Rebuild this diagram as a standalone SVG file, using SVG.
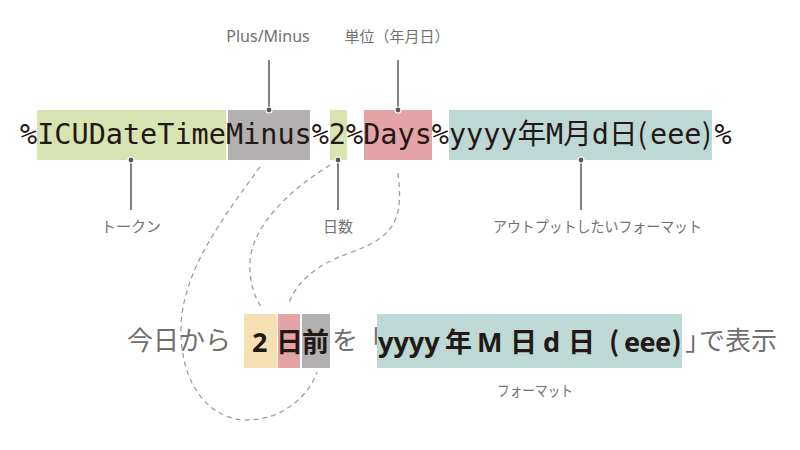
<svg xmlns="http://www.w3.org/2000/svg" width="800" height="450" viewBox="0 0 800 450">
<style>
.mono{font-family:"DejaVu Sans Mono","Noto Sans CJK JP",monospace;font-size:28.5px;fill:#231815}
.cj{font-family:"Noto Sans CJK JP",sans-serif}
.lbl{font-family:"Noto Sans","Noto Sans CJK JP",sans-serif;font-size:16px;fill:#727171;text-anchor:middle}
.lblj{font-family:"Noto Sans CJK JP",sans-serif;font-size:15px;fill:#727171;text-anchor:middle}
.gt{font-family:"Noto Sans CJK JP",sans-serif;font-size:26px;fill:#716e6e}
.bt{font-family:"Noto Sans","Noto Sans CJK JP",sans-serif;font-size:27px;font-weight:700;fill:#231815}
.btj{font-family:"Noto Sans CJK JP",sans-serif;font-size:27px;font-weight:700;fill:#231815}
.lead{stroke:#595757;stroke-width:1.5;fill:none}
.dot{fill:#595757;stroke:#fff;stroke-width:1.2}
.dash{stroke:#9e9e9f;stroke-width:1.3;fill:none;stroke-dasharray:5 4}
.g{fill:#d7e3b1}.k{fill:#b2b0b1}.r{fill:#e4a4a6}.t{fill:#bed9d5}.b{fill:#f5dfb3}
</style>
<rect width="800" height="450" fill="#fff"/>
<g id="connectors">
<path class="dash" d="M260,167 C225,215 182,270 181,328 C180,385 210,420 247,420 C282,420 309,396 317,372"/>
<path class="dash" d="M330,165 C290,190 252,225 250,262 C249,283 255,297 261,307"/>
<path class="dash" d="M398,173 C403,215 398,236 352,252 C312,266 296,284 288,305"/>
<line class="lead" x1="269" y1="60" x2="269" y2="110"/>
<line class="lead" x1="398" y1="60" x2="398" y2="110"/>
<line class="lead" x1="131" y1="160" x2="131" y2="210"/>
<line class="lead" x1="338" y1="160" x2="338" y2="210"/>
<line class="lead" x1="581" y1="160" x2="581" y2="210"/>
</g>
<g id="token-string">
<rect class="g" x="37" y="110" width="189" height="50"/>
<rect class="k" x="228" y="110" width="82" height="50"/>
<rect class="g" x="330" y="110" width="17" height="50"/>
<rect class="r" x="364" y="110" width="68" height="50"/>
<rect class="t" x="449" y="110" width="263" height="50"/>
<text class="mono" x="20" y="144">%ICUDateTimeMinus%2%Days%yyyy年M月d日<tspan class="cj" x="637.5">(</tspan><tspan x="650">eee</tspan><tspan class="cj" x="702">)</tspan><tspan x="714.5">%</tspan></text>
<circle class="dot" cx="269" cy="110" r="3"/>
<circle class="dot" cx="398" cy="110" r="3"/>
<circle class="dot" cx="131" cy="160" r="3"/>
<circle class="dot" cx="338" cy="160" r="3"/>
<circle class="dot" cx="581" cy="160" r="3"/>
</g>
<g id="label-plusminus"><text class="lbl" x="268" y="42">Plus/Minus</text></g>
<g id="label-unit"><text class="lblj" x="397" y="42" font-size="16">単位（年月日）</text></g>
<g id="label-token"><text class="lblj" x="131" y="232">トークン</text></g>
<g id="label-days"><text class="lblj" x="338" y="232" font-size="16">日数</text></g>
<g id="label-output"><text class="lblj" x="597.5" y="232" textLength="209" lengthAdjust="spacingAndGlyphs">アウトプットしたいフォーマット</text></g>
<g id="result-string">
<text class="gt" x="127" y="350">今日から</text>
<rect class="b" x="244" y="314" width="33" height="54"/>
<rect class="r" x="278" y="314" width="22" height="54"/>
<rect class="k" x="302" y="314" width="28" height="54"/>
<text class="bt" x="252" y="352">2</text>
<text class="btj" x="276" y="352">日</text>
<text class="btj" x="302" y="352">前</text>
<text class="gt" x="332 358" y="350">を「</text>
<rect class="t" x="377" y="314" width="305" height="54"/>
<text class="bt" x="378" y="352">yyyy</text>
<text class="btj" x="445" y="352">年</text>
<text class="bt" x="477" y="352">M</text>
<text class="btj" x="510" y="352">日</text>
<text class="bt" x="543" y="352">d</text>
<text class="btj" x="568" y="352">日</text>
<text class="btj" x="609" y="352">(</text>
<text class="bt" x="624" y="352" textLength="47" lengthAdjust="spacing">eee</text>
<text class="btj" x="671.5" y="352">)</text>
<text class="gt" x="685 699 725 751" y="350">」で表示</text>
</g>
<g id="label-format"><text class="lblj" x="535" y="396" font-size="14" textLength="76" lengthAdjust="spacingAndGlyphs">フォーマット</text></g>
</svg>
